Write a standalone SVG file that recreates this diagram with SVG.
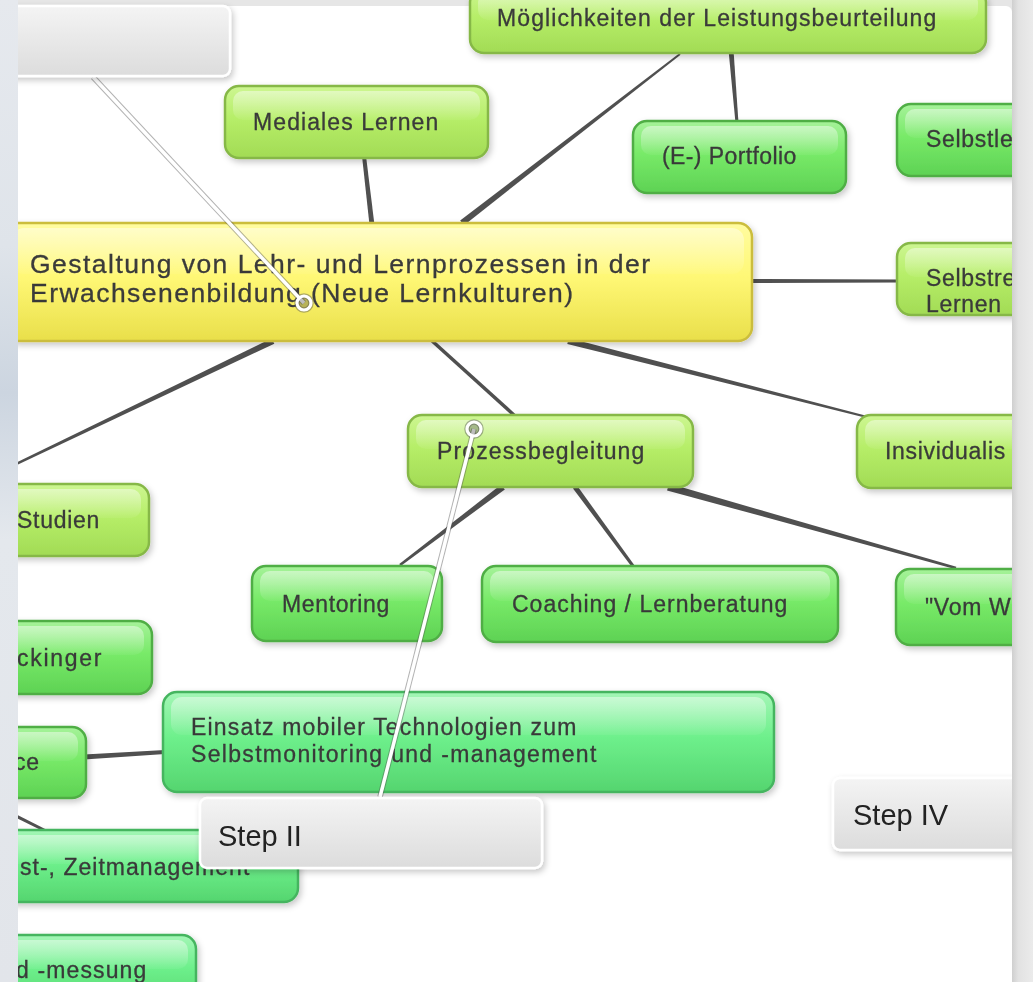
<svg xmlns="http://www.w3.org/2000/svg" width="1033" height="982" viewBox="0 0 1033 982">
<style>
.b{stroke-width:2.5;}
.lime .b{fill:url(#gLime);stroke:#86b847;}
.green .b{fill:url(#gGreen);stroke:#4fae45;}
.mint .b{fill:url(#gMint);stroke:#45b55f;}
.yellow .b{fill:url(#gYellow);stroke:#cbbd3c;}
.gl{fill:url(#gGloss);}
.t{font-family:"Liberation Sans",Arial,sans-serif;font-size:23px;fill:#3a3a3a;stroke:#3a3a3a;stroke-width:0.3;letter-spacing:0.7px;}
.tc{font-family:"Liberation Sans",Arial,sans-serif;font-size:26.5px;fill:#3a3a3a;stroke:#3a3a3a;stroke-width:0.3;}
.co{fill:url(#gCall);stroke:#ffffff;stroke-width:2.5;}
.ct{font-family:"Liberation Sans",Arial,sans-serif;font-size:29px;fill:#222222;}
.cls{stroke:#555555;stroke-width:5.5;stroke-opacity:0.45;fill:none;}
.cl{stroke:#ffffff;stroke-width:3.5;fill:none;}
.cd{fill:rgba(70,70,70,0.35);stroke:#ffffff;stroke-width:3.2;}
.cds{fill:none;stroke:#555555;stroke-opacity:0.45;stroke-width:5.5;}
.edge{fill:#505050;}
</style>
<defs>
<linearGradient id="gLime" x1="0" y1="0" x2="0" y2="1"><stop offset="0" stop-color="#cdf692"/><stop offset="0.45" stop-color="#b6ee68"/><stop offset="1" stop-color="#a2db55"/></linearGradient>
<linearGradient id="gGreen" x1="0" y1="0" x2="0" y2="1"><stop offset="0" stop-color="#a6f29a"/><stop offset="0.45" stop-color="#78ea68"/><stop offset="1" stop-color="#5ed254"/></linearGradient>
<linearGradient id="gMint" x1="0" y1="0" x2="0" y2="1"><stop offset="0" stop-color="#a4f6b6"/><stop offset="0.45" stop-color="#6ef08c"/><stop offset="1" stop-color="#55d56f"/></linearGradient>
<linearGradient id="gYellow" x1="0" y1="0" x2="0" y2="1"><stop offset="0" stop-color="#fffca0"/><stop offset="0.45" stop-color="#fff876"/><stop offset="1" stop-color="#e9df4a"/></linearGradient>
<linearGradient id="gGloss" x1="0" y1="0" x2="0" y2="1"><stop offset="0" stop-color="#ffffff" stop-opacity="0.45"/><stop offset="1" stop-color="#ffffff" stop-opacity="0.05"/></linearGradient>
<linearGradient id="gCall" x1="0" y1="0" x2="0" y2="1"><stop offset="0" stop-color="#f4f4f4"/><stop offset="1" stop-color="#dcdcdc"/></linearGradient>
<linearGradient id="gLeft" x1="0" y1="0" x2="0" y2="1"><stop offset="0" stop-color="#e6e9ee"/><stop offset="0.25" stop-color="#dfe4ea"/><stop offset="0.4" stop-color="#ccd5e0"/><stop offset="0.55" stop-color="#e4e8ed"/><stop offset="1" stop-color="#e2e5ea"/></linearGradient>
<linearGradient id="gRight" x1="0" y1="0" x2="1" y2="0"><stop offset="0" stop-color="#cfcfcf"/><stop offset="0.3" stop-color="#e2e2e2"/><stop offset="1" stop-color="#ebebeb"/></linearGradient>
<filter id="sh" x="-10%" y="-20%" width="120%" height="150%"><feDropShadow dx="2" dy="3" stdDeviation="3" flood-color="#000" flood-opacity="0.22"/></filter>
<clipPath id="canvas"><rect x="18" y="-50" width="994" height="1100"/></clipPath>
</defs>
<rect x="0" y="0" width="1033" height="982" fill="#e6e6e6"/>
<rect x="0" y="0" width="18" height="982" fill="url(#gLeft)"/>
<rect x="1012" y="0" width="21" height="982" fill="url(#gRight)"/>
<rect x="18" y="6" width="994" height="990" rx="6" fill="#ffffff"/>
<g clip-path="url(#canvas)">
<g id="connectors">
<polygon class="edge" points="362,156 366,156 374.5,225 369.5,225"/>
<polygon class="edge" points="460.2,220.6 679.4,53.2 680.6,54.8 463.8,225.4"/>
<polygon class="edge" points="728.5,50 733.5,50 738.5,123 735.5,123"/>
<polygon class="edge" points="750,279 899,279.5 899,282.5 750,283"/>
<polygon class="edge" points="568.7,338.1 867.25,416 866.75,418 567.3,343.9"/>
<line x1="430" y1="339" x2="515" y2="416" stroke="#505050" stroke-width="3.5"/>
<polygon class="edge" points="271.7,338.3 9.5,465.9 10.5,468.1 274.3,343.7"/>
<polygon class="edge" points="501.2,484.6 399.25,564 400.75,566 504.8,489.4"/>
<polygon class="edge" points="577,485.5 634.2,565.1 631.8,566.9 573,488.5"/>
<polygon class="edge" points="668.95,483.6 956.34,566.8 955.66,569.2 667.05,490.4"/>
<polygon class="edge" points="84,754.5 165,750 165,754 84,759.5"/>
<line x1="14" y1="815" x2="46" y2="831" stroke="#505050" stroke-width="3"/>
</g>
<g id="n-moeg" class="lime" filter="url(#sh)"><rect class="b" x="470" y="-12" width="516" height="65" rx="14"/><rect class="gl" x="478" y="-8" width="500" height="28" rx="10"/><text class="t" x="497" y="26" textLength="440" lengthAdjust="spacing">Möglichkeiten der Leistungsbeurteilung</text></g>
<g id="n-mediales" class="lime" filter="url(#sh)"><rect class="b" x="225" y="86" width="263" height="72" rx="14"/><rect class="gl" x="233" y="91" width="247" height="29" rx="10"/><text class="t" x="253" y="130" textLength="186" lengthAdjust="spacing">Mediales Lernen</text></g>
<g id="n-portfolio" class="green" filter="url(#sh)"><rect class="b" x="633" y="121" width="213" height="72" rx="14"/><rect class="gl" x="641" y="126" width="197" height="29" rx="10"/><text class="t" x="662" y="164" textLength="135" lengthAdjust="spacing">(E-) Portfolio</text></g>
<g id="n-selbstle" class="green" filter="url(#sh)"><rect class="b" x="897" y="104" width="150" height="72" rx="14"/><rect class="gl" x="905" y="109" width="134" height="29" rx="10"/><text class="t" x="926" y="147">Selbstle</text></g>
<g id="n-central" class="yellow" filter="url(#sh)"><rect class="b" x="4" y="223" width="748" height="118" rx="14"/><rect class="gl" x="12" y="228" width="732" height="46" rx="12"/><text class="tc" x="30" y="273" textLength="620" lengthAdjust="spacing">Gestaltung von Lehr- und Lernprozessen in der</text><text class="tc" x="30" y="302" textLength="543" lengthAdjust="spacing">Erwachsenenbildung (Neue Lernkulturen)</text></g>
<g id="n-selbstre" class="lime" filter="url(#sh)"><rect class="b" x="897" y="243" width="150" height="72" rx="14"/><rect class="gl" x="905" y="248" width="134" height="29" rx="10"/><text class="t" x="926" y="286">Selbstre</text><text class="t" x="926" y="312">Lernen</text></g>
<g id="n-prozess" class="lime" filter="url(#sh)"><rect class="b" x="408" y="415" width="285" height="72" rx="14"/><rect class="gl" x="416" y="420" width="269" height="29" rx="10"/><text class="t" x="437" y="459" textLength="208" lengthAdjust="spacing">Prozessbegleitung</text></g>
<g id="n-insiv" class="lime" filter="url(#sh)"><rect class="b" x="857" y="415" width="190" height="73" rx="14"/><rect class="gl" x="865" y="420" width="174" height="29" rx="10"/><text class="t" x="885" y="459">Insividualis</text></g>
<g id="n-studien" class="lime" filter="url(#sh)"><rect class="b" x="-20" y="484" width="169" height="72" rx="14"/><rect class="gl" x="-12" y="489" width="153" height="29" rx="10"/><text class="t" x="17" y="528" textLength="83" lengthAdjust="spacing">Studien</text></g>
<g id="n-mentoring" class="green" filter="url(#sh)"><rect class="b" x="252" y="566" width="190" height="75" rx="14"/><rect class="gl" x="260" y="571" width="174" height="30" rx="10"/><text class="t" x="282" y="612" textLength="108" lengthAdjust="spacing">Mentoring</text></g>
<g id="n-coaching" class="green" filter="url(#sh)"><rect class="b" x="482" y="566" width="356" height="76" rx="14"/><rect class="gl" x="490" y="571" width="340" height="30" rx="10"/><text class="t" x="512" y="612" textLength="276" lengthAdjust="spacing">Coaching / Lernberatung</text></g>
<g id="n-vomw" class="green" filter="url(#sh)"><rect class="b" x="896" y="569" width="150" height="76" rx="14"/><rect class="gl" x="904" y="574" width="134" height="30" rx="10"/><text class="t" x="925" y="615">"Vom W</text></g>
<g id="n-ckinger" class="green" filter="url(#sh)"><rect class="b" x="-20" y="621" width="172" height="73" rx="14"/><rect class="gl" x="-12" y="626" width="156" height="29" rx="10"/><text class="t" x="17" y="666" textLength="85" lengthAdjust="spacing">ckinger</text></g>
<g id="n-ce" class="green" filter="url(#sh)"><rect class="b" x="-20" y="727" width="106" height="71" rx="14"/><rect class="gl" x="-12" y="732" width="90" height="29" rx="10"/><text class="t" x="14" y="770">ce</text></g>
<g id="n-einsatz" class="mint" filter="url(#sh)"><rect class="b" x="163" y="692" width="611" height="100" rx="14"/><rect class="gl" x="171" y="697" width="595" height="38" rx="11"/><text class="t" x="191" y="735" textLength="386" lengthAdjust="spacing">Einsatz mobiler Technologien zum</text><text class="t" x="191" y="762" textLength="406" lengthAdjust="spacing">Selbstmonitoring und -management</text></g>
<g id="n-zeit" class="mint" filter="url(#sh)"><rect class="b" x="-20" y="830" width="318" height="72" rx="14"/><rect class="gl" x="-12" y="835" width="302" height="29" rx="10"/><text class="t" x="20" y="875" textLength="230" lengthAdjust="spacing">st-, Zeitmanagement</text></g>
<g id="n-messung" class="mint" filter="url(#sh)"><rect class="b" x="-20" y="935" width="216" height="72" rx="14"/><rect class="gl" x="-12" y="940" width="200" height="29" rx="10"/><text class="t" x="16" y="978" textLength="131" lengthAdjust="spacing">d -messung</text></g>
<g id="callout-lines">
<line class="cls" x1="93" y1="77" x2="304" y2="303"/>
<circle class="cds" cx="304" cy="303" r="7"/>
<line class="cl" x1="93" y1="77" x2="304" y2="303"/>
<circle class="cd" cx="304" cy="303" r="7"/>
<line class="cls" x1="380" y1="797" x2="474" y2="429"/>
<circle class="cds" cx="474" cy="429" r="7"/>
<line class="cl" x1="380" y1="797" x2="474" y2="429"/>
<circle class="cd" cx="474" cy="429" r="7"/>
</g>
<g id="callout-top" filter="url(#sh)"><rect class="co" x="4" y="6" width="226" height="70" rx="7"/></g>
<g id="callout-step2" filter="url(#sh)"><rect class="co" x="200" y="798" width="342" height="70" rx="7"/><text class="ct" x="218" y="846">Step II</text></g>
<g id="callout-step4" filter="url(#sh)"><rect class="co" x="833" y="778" width="200" height="72" rx="7"/><text class="ct" x="853" y="825">Step IV</text></g>
</g>
</svg>
